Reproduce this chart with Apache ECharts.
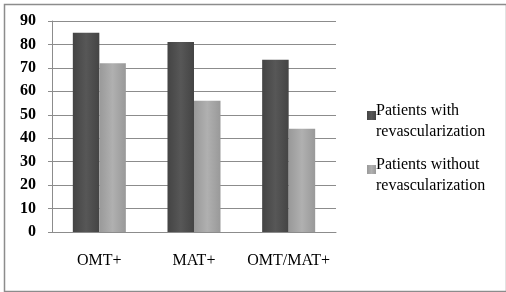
<!DOCTYPE html>
<html>
<head>
<meta charset="utf-8">
<script src="https://cdn.jsdelivr.net/npm/echarts@6/dist/echarts.min.js"></script>
<style>html,body{margin:0;padding:0;background:#fff}#c{width:506px;height:292px}</style>
</head>
<body>
<div id="c"></div>
<script>
const categories = ['OMT+', 'MAT+', 'OMT/MAT+'];
const withRevasc = [85, 81, 73.5];
const withoutRevasc = [72, 56, 44];
const seriesNames = ['Patients with\nrevascularization', 'Patients without\nrevascularization'];

const chart = echarts.init(document.getElementById('c'));
const font = 'Liberation Serif';
function grad(a, b) {
  return new echarts.graphic.LinearGradient(0, 0, 1, 0, [
    {offset: 0, color: a}, {offset: 0.5, color: b}, {offset: 1, color: a}
  ]);
}
function legendAt(name, top) {
  return {
    orient: 'vertical', left: 362, top: top,
    itemWidth: 9, itemHeight: 9, itemGap: 0, icon: 'rect',
    formatter: () => ' ',
    textStyle: {fontSize: 9, lineHeight: 9},
    data: [name]
  };
}
function legendText(name, top) {
  return {
    type: 'text', left: 376, top: top,
    style: {text: name, fontFamily: font, fontSize: 16, fill: '#000', lineHeight: 21}
  };
}
chart.setOption({
  animation: false,
  backgroundColor: '#fff',
  textStyle: {fontFamily: font},
  graphic: [{
    type: 'rect', left: 2, top: 2,
    shape: {width: 502, height: 287},
    style: {fill: 'none', stroke: '#8c8c8c', lineWidth: 1.5}
  }, legendText(seriesNames[0], 100), legendText(seriesNames[1], 154)],
  grid: {left: 52, right: 170, top: 21, bottom: 60},
  legend: [legendAt(seriesNames[0], 106), legendAt(seriesNames[1], 160)],
  xAxis: {
    type: 'category', data: categories,
    axisLine: {lineStyle: {color: '#8c8c8c'}},
    axisTick: {length: 4, lineStyle: {color: '#8c8c8c'}},
    axisLabel: {fontFamily: font, fontSize: 16, color: '#000', margin: 21, interval: 0}
  },
  yAxis: {
    type: 'value', min: 0, max: 90, interval: 10,
    axisLine: {show: true, lineStyle: {color: '#8c8c8c'}},
    axisTick: {show: true, length: 4, lineStyle: {color: '#8c8c8c'}},
    splitLine: {lineStyle: {color: '#8c8c8c'}},
    axisLabel: {fontFamily: font, fontSize: 16, fontWeight: 'bold', color: '#000', margin: 16}
  },
  series: [
    {name: seriesNames[0], type: 'bar', data: withRevasc, barWidth: '28%', barGap: '0%',
     itemStyle: {color: grad('#444444', '#575757')}},
    {name: seriesNames[1], type: 'bar', data: withoutRevasc, barWidth: '28%',
     itemStyle: {color: grad('#999999', '#b0b0b0')}}
  ]
});
</script>
</body>
</html>
